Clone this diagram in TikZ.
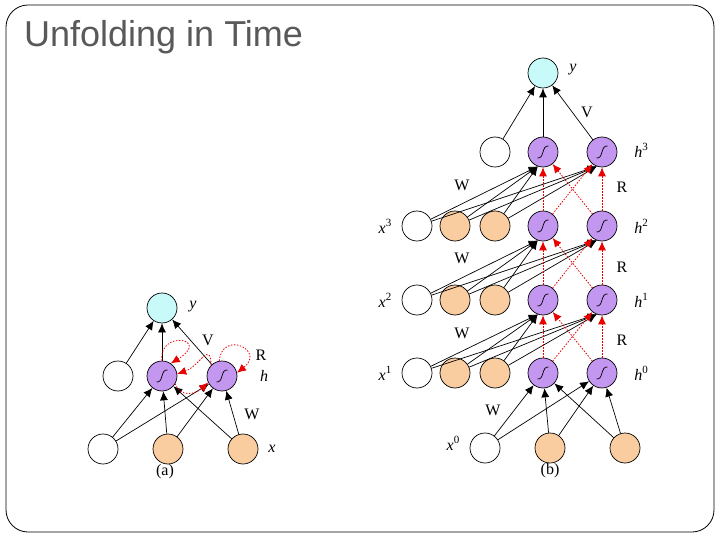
\documentclass[tikz,border=0pt]{standalone}
\usepackage{fontspec}
\setmainfont{Liberation Serif}
\newfontfamily\titlefont{Liberation Sans}
\usetikzlibrary{arrows.meta}
\definecolor{cyanfill}{RGB}{200,250,250}
\definecolor{orangefill}{RGB}{250,205,160}
\definecolor{purplefill}{RGB}{195,150,240}
\definecolor{titlegray}{RGB}{89,89,89}
\definecolor{rred}{RGB}{235,0,0}
\newcommand\suplab[2]{\textit{#1}\raisebox{0.45em}{\fontsize{11}{11}\selectfont #2}}
\begin{document}
\begin{tikzpicture}[x=1pt,y=-1pt,
  unit/.style={circle,draw,line width=0.7pt,minimum size=30pt,inner sep=0pt},
  wnode/.style={unit,fill=white},
  onode/.style={unit,fill=orangefill},
  cnode/.style={unit,fill=cyanfill},
  pnode/.style={unit,fill=purplefill,path picture={\draw[line width=0.7pt,shift={(path picture bounding box.center)}] (-5.5pt,-6pt) .. controls (1.5pt,-7pt) and (-1.5pt,7pt) .. (5.5pt,6pt);}},
  conn/.style={line width=0.7pt,-{Latex[length=9pt,width=8pt]}},
  rec/.style={line width=0.8pt,rred,dash pattern=on 1.5pt off 1.5pt,-{Latex[length=9pt,width=8pt]}},
  lbl/.style={font=\fontsize{16}{16}\selectfont,inner sep=0pt},
  ilbl/.style={font=\fontsize{16}{16}\selectfont\itshape,inner sep=0pt},
]
\useasboundingbox (0,0) rectangle (720,540);
\draw[line width=0.8pt,rounded corners=22pt] (6,5) rectangle (714,532);
\node[anchor=base west,font=\titlefont\fontsize{36}{36}\selectfont,text=titlegray,inner sep=0pt] (title) at (24,47) {Unfolding in Time};

% ---------- (a) ----------
\node[cnode] (ay) at (162,308) {};
\node[wnode] (ahw) at (118,376) {};
\node[pnode] (ah1) at (162,376) {};
\node[pnode] (ah2) at (222,376) {};
\node[wnode] (axw) at (103,449) {};
\node[onode] (axp) at (168,449) {};
\node[onode] (axq) at (243,449) {};
\foreach \s in {ahw,ah1,ah2} \draw[conn] (\s) -- (ay);
\foreach \s in {axw,axp,axq} {\draw[conn] (\s) -- (ah1); \draw[conn] (\s) -- (ah2);}
\draw[rec] (ah1.north) .. controls (158,330) and (212,338) .. (ah1.55);
\draw[rec] (ah2.135) .. controls (210,340) and (200,366) .. (ah1.8);
\draw[rec] (ah1.-30) .. controls (180,398) and (196,394) .. (ah2.205);
\draw[rec] (ah2.100) .. controls (222,330) and (266,350) .. (ah2.12);
\node[ilbl] (lay) at (193,307) {y};
\node[lbl] (laV) at (208,340) {V};
\node[lbl] (laR) at (261,355) {R};
\node[ilbl] (lah) at (264,376) {h};
\node[lbl] (laW) at (252,414) {W};
\node[ilbl] (lax) at (272,449) {x};
\node[lbl] (laa) at (165,472) {(a)};

% ---------- (b) ----------
\node[cnode] (by) at (543,73) {};
\node[wnode] (b3w) at (495,152) {};
\node[pnode] (h3A) at (543,152) {};
\node[pnode] (h3B) at (602,152) {};
\foreach \k/\yy in {3/226,2/300,1/373}{
  \pgfmathtruncatemacro\j{\k-1}
  \node[wnode] (x\k W) at (417,\yy) {};
  \node[onode] (x\k P) at (455,\yy) {};
  \node[onode] (x\k Q) at (495,\yy) {};
  \node[pnode] (h\j A) at (543,\yy) {};
  \node[pnode] (h\j B) at (602,\yy) {};
}
\node[wnode] (x0W) at (485,448) {};
\node[onode] (x0P) at (550,448) {};
\node[onode] (x0Q) at (625,448) {};
\foreach \s in {b3w,h3A,h3B} \draw[conn] (\s) -- (by);
\foreach \k in {3,2,1}{
  \pgfmathtruncatemacro\j{\k-1}
  \foreach \s in {W,P,Q}{
    \draw[conn] (x\k\s) -- (h\k A.250);
    \draw[conn] (x\k\s) -- (h\k B.250);
  }
  \draw[rec] (h\j A) -- (h\k A);
  \draw[rec] (h\j B) -- (h\k B);
  \draw[rec] (h\j A) -- (h\k B);
  \draw[rec] (h\j B) -- (h\k A);
}
\foreach \s in {W,P,Q}{
  \draw[conn] (x0\s) -- (h0A);
  \draw[conn] (x0\s) -- (h0B);
}
\node[ilbl] (lby) at (573,70) {y};
\node[lbl] (lbV) at (587,112) {V};
\node[lbl] (lh3) at (641,150) {\suplab{h}{3}};
\node[lbl] (lbW3) at (462,185) {W};
\node[lbl] (lbR3) at (622,187) {R};
\node[lbl] (lx3) at (385,226) {\suplab{x}{3}};
\node[lbl] (lh2) at (641,226) {\suplab{h}{2}};
\node[lbl] (lbW2) at (462,258) {W};
\node[lbl] (lbR2) at (622,267) {R};
\node[lbl] (lx2) at (385,300) {\suplab{x}{2}};
\node[lbl] (lh1) at (641,300) {\suplab{h}{1}};
\node[lbl] (lbW1) at (462,333) {W};
\node[lbl] (lbR1) at (622,340) {R};
\node[lbl] (lx1) at (385,373) {\suplab{x}{1}};
\node[lbl] (lh0) at (641,373) {\suplab{h}{0}};
\node[lbl] (lbW0) at (493,410) {W};
\node[lbl] (lx0) at (453,443) {\suplab{x}{0}};
\node[lbl] (lbb) at (550,471) {(b)};
\end{tikzpicture}
\end{document}
